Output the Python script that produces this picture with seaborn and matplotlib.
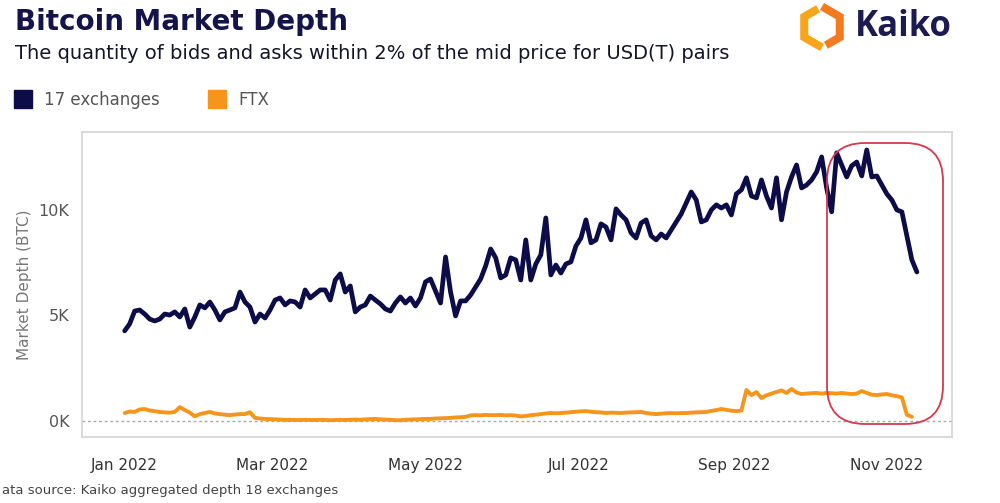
import numpy as np
import pandas as pd
import matplotlib.pyplot as plt
import matplotlib.dates as mdates
from matplotlib.patches import Patch, FancyBboxPatch
from matplotlib.lines import Line2D
from matplotlib.ticker import FixedLocator, FuncFormatter
import seaborn as sns

sns.set_style("white")
plt.rcParams["font.family"] = ["DejaVu Sans"]

# data: market depth in thousands of BTC, one reading every 2 days from 1 Jan 2022
start_date = "2022-01-01"
step = "2D"
depth_17 = [
    4.27, 4.60, 5.21, 5.26, 5.07, 4.83, 4.74, 4.83, 5.07, 5.02,
    5.17, 4.93, 5.31, 4.45, 4.93, 5.50, 5.36, 5.64, 5.26, 4.79,
    5.17, 5.26, 5.36, 6.11, 5.64, 5.40, 4.69, 5.07, 4.88, 5.26,
    5.73, 5.83, 5.50, 5.69, 5.64, 5.40, 6.21, 5.83, 6.02, 6.21,
    6.21, 5.73, 6.68, 6.97, 6.11, 6.40, 5.17, 5.40, 5.50, 5.92,
    5.73, 5.55, 5.31, 5.21, 5.59, 5.88, 5.59, 5.83, 5.45, 5.83,
    6.59, 6.73, 6.16, 5.59, 7.77, 6.11, 4.98, 5.69, 5.69, 5.97,
    6.35, 6.73, 7.35, 8.15, 7.73, 6.78, 6.92, 7.73, 7.63, 6.68,
    8.58, 6.68, 7.44, 7.87, 9.62, 6.92, 7.39, 7.01, 7.44, 7.54,
    8.29, 8.67, 9.53, 8.44, 8.58, 9.34, 9.19, 8.58, 10.05, 9.76,
    9.53, 8.91, 8.67, 9.38, 9.53, 8.77, 8.58, 8.86, 8.67, 9.05,
    9.43, 9.81, 10.33, 10.85, 10.47, 9.43, 9.53, 10.00, 10.24, 10.09,
    10.24, 9.76, 10.76, 10.95, 11.52, 10.66, 10.57, 11.42, 10.66, 10.09,
    11.52, 9.53, 10.85, 11.56, 12.13, 11.04, 11.18, 11.42, 11.80, 12.51,
    11.04, 9.91, 12.70, 12.13, 11.56, 12.09, 12.27, 11.61, 12.84, 11.56,
    11.61, 11.18, 10.76, 10.47, 10.00, 9.91, 8.77, 7.63, 7.06,
]
depth_ftx = [
    0.38, 0.45, 0.43, 0.55, 0.57, 0.50, 0.47, 0.43, 0.41, 0.40,
    0.43, 0.66, 0.52, 0.40, 0.22, 0.33, 0.38, 0.43, 0.36, 0.33,
    0.30, 0.28, 0.31, 0.33, 0.33, 0.42, 0.15, 0.12, 0.10, 0.09,
    0.08, 0.07, 0.05, 0.06, 0.05, 0.05, 0.06, 0.05, 0.05, 0.06,
    0.05, 0.04, 0.05, 0.06, 0.05, 0.06, 0.07, 0.06, 0.08, 0.09,
    0.10, 0.08, 0.07, 0.06, 0.04, 0.04, 0.06, 0.07, 0.08, 0.09,
    0.10, 0.10, 0.12, 0.13, 0.14, 0.15, 0.17, 0.18, 0.20, 0.27,
    0.28, 0.27, 0.29, 0.28, 0.28, 0.29, 0.27, 0.28, 0.26, 0.22,
    0.24, 0.28, 0.30, 0.33, 0.36, 0.38, 0.37, 0.38, 0.40, 0.42,
    0.44, 0.46, 0.47, 0.44, 0.42, 0.41, 0.38, 0.40, 0.39, 0.38,
    0.40, 0.41, 0.42, 0.43, 0.38, 0.35, 0.33, 0.35, 0.37, 0.38,
    0.37, 0.38, 0.38, 0.40, 0.41, 0.42, 0.43, 0.48, 0.52, 0.57,
    0.53, 0.49, 0.47, 0.50, 1.47, 1.23, 1.37, 1.09, 1.22, 1.30,
    1.38, 1.45, 1.33, 1.52, 1.35, 1.28, 1.30, 1.32, 1.33, 1.30,
    1.33, 1.32, 1.30, 1.33, 1.30, 1.28, 1.30, 1.42, 1.33, 1.25,
    1.23, 1.26, 1.28, 1.22, 1.18, 1.12, 0.30, 0.20,
]
series_names = ["17 exchanges", "FTX"]
series_colors = ["#0c0c48", "#f5951c"]
y_ticks = [0, 5000, 10000]

df17 = pd.DataFrame({"date": pd.date_range(start_date, periods=len(depth_17), freq=step),
                     "depth": np.array(depth_17) * 1000})
dfftx = pd.DataFrame({"date": pd.date_range(start_date, periods=len(depth_ftx), freq=step),
                      "depth": np.array(depth_ftx) * 1000})

fig = plt.figure(figsize=(10, 5.03), dpi=100)
ax = fig.add_axes([0.082, 0.131, 0.870, 0.607])

sns.lineplot(data=dfftx, x="date", y="depth", color=series_colors[1], linewidth=2.8, ax=ax)
sns.lineplot(data=df17, x="date", y="depth", color=series_colors[0], linewidth=3.4, ax=ax)

ax.axhline(0, color="#a8a8a8", lw=1, ls=(0, (2, 2)), zorder=0)

ax.set_xlim(pd.Timestamp("2021-12-15"), pd.Timestamp("2022-11-27"))
ax.set_ylim(-760, 13700)

ax.xaxis.set_major_locator(mdates.MonthLocator(bymonth=[1, 3, 5, 7, 9, 11]))
ax.xaxis.set_minor_locator(mdates.MonthLocator())
ax.xaxis.set_major_formatter(mdates.DateFormatter("%b %Y"))
ax.yaxis.set_major_locator(FixedLocator(y_ticks))
ax.yaxis.set_major_formatter(FuncFormatter(lambda v, p: f"{v/1000:.0f}K"))

ax.tick_params(axis="x", which="both", direction="out", length=7, width=1,
               color="#c8c8c8", labelsize=11, labelcolor="#333333", pad=8)
ax.tick_params(axis="y", direction="out", length=6, width=1, color="#c8c8c8",
               labelsize=11.5, labelcolor="#555555", pad=3)
ax.set_xlabel("")
ax.set_ylabel("Market Depth (BTC)", color="#777777", fontsize=11, labelpad=5)
for s in ax.spines.values():
    s.set_color("#d4d4d4")
    s.set_linewidth(1.2)

# header
fig.text(0.015, 0.985, "Bitcoin Market Depth", fontsize=20, fontweight="bold",
         color="#14144a", va="top", ha="left")
fig.text(0.015, 0.913, "The quantity of bids and asks within 2% of the mid price for USD(T) pairs",
         fontsize=14, color="#15152a", va="top", ha="left")

handles = [Patch(facecolor=c, edgecolor=c) for c in series_colors]
fig.legend(handles, series_names, loc="upper left", bbox_to_anchor=(-0.001, 0.85),
           ncol=2, frameon=False, fontsize=12, handlelength=1.1, handleheight=1.2,
           handletextpad=0.7, columnspacing=2.9, labelcolor="#555555")

# Kaiko logo (hexagon made of two brackets)
cx, cy, r = 8.22, 4.76, 0.205
ang = np.deg2rad([90, 150, 210, 270, 330, 30])
T, UL, LL, B, LR, UR = [np.array([cx + r * np.cos(a), cy + r * np.sin(a)]) for a in ang]
lerp = lambda p, q, t: p + (q - p) * t
left = np.array([lerp(T, UL, 0.22), UL, LL, B])
right = np.array([T, UR, LR, lerp(LR, B, 0.78)])
fig.add_artist(Line2D(left[:, 0], left[:, 1], transform=fig.dpi_scale_trans, color="#f8a51c",
                      lw=5.8, solid_joinstyle="miter", solid_capstyle="butt"))
fig.add_artist(Line2D(right[:, 0], right[:, 1], transform=fig.dpi_scale_trans, color="#f47a20",
                      lw=5.8, solid_joinstyle="miter", solid_capstyle="butt"))
fig.text(0.855, 0.946, "Kaiko", fontsize=25, fontweight="bold", family=["Open Sans", "DejaVu Sans"],
         color="#1b1b50", va="center", ha="left")

# highlight box around the November drop
box = FancyBboxPatch((8.27, 0.79), 1.16, 2.81, boxstyle="round,pad=0,rounding_size=0.38",
                     transform=fig.dpi_scale_trans, fill=False, edgecolor="#d8374d", lw=1.3)
fig.add_artist(box)

fig.text(0.002, 0.012, "ata source: Kaiko aggregated depth 18 exchanges", fontsize=9.5,
         color="#444444", va="bottom", ha="left")

fig.savefig("out.png", dpi=100)
